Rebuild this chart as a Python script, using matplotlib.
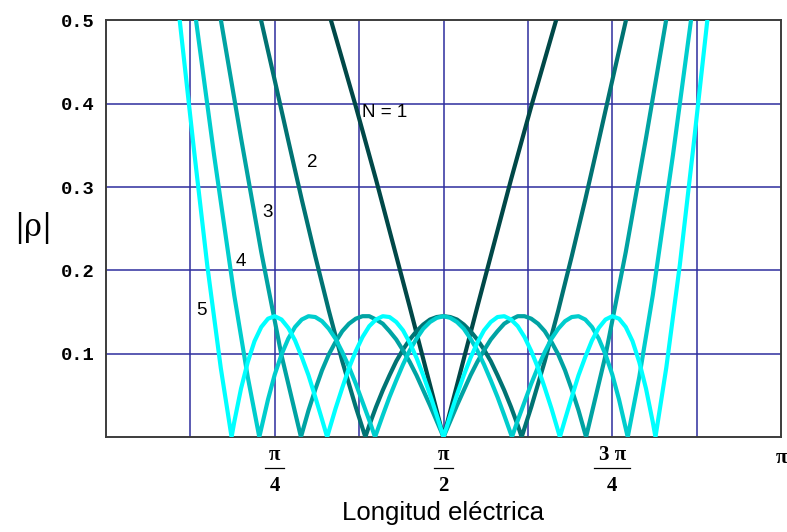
import matplotlib
matplotlib.use("Agg")
import matplotlib.pyplot as plt
from matplotlib.transforms import blended_transform_factory

# electrical length in units of pi, |rho|
X_N1 = [0.3333, 0.37, 0.40, 0.45, 0.50, 0.55, 0.60, 0.63, 0.6667]
Y_N1 = [0.500, 0.397, 0.309, 0.156, 0.0, 0.156, 0.309, 0.397, 0.500]

X_N2 = [0.2298, 0.25, 0.27, 0.29, 0.31, 0.33, 0.35, 0.37, 0.3842,
        0.39, 0.40, 0.41, 0.42, 0.43, 0.44, 0.45, 0.46, 0.47, 0.48, 0.49, 0.50,
        0.51, 0.52, 0.53, 0.54, 0.55, 0.56, 0.57, 0.58, 0.59, 0.60, 0.61,
        0.6158, 0.63, 0.65, 0.67, 0.69, 0.71, 0.73, 0.75, 0.7702]
Y_N2 = [0.500, 0.428, 0.356, 0.285, 0.217, 0.152, 0.091, 0.036, 0.0,
        0.014, 0.036, 0.056, 0.074, 0.091, 0.105, 0.117, 0.127, 0.135, 0.141, 0.144, 0.145,
        0.144, 0.141, 0.135, 0.127, 0.117, 0.105, 0.091, 0.074, 0.056, 0.036, 0.014,
        0.0, 0.036, 0.091, 0.152, 0.217, 0.285, 0.356, 0.428, 0.500]

X_N3 = [0.1703, 0.20, 0.23, 0.26, 0.2888,
        0.30, 0.31, 0.32, 0.33, 0.34, 0.35, 0.36, 0.37, 0.38, 0.39, 0.40,
        0.41, 0.42, 0.43, 0.44, 0.45, 0.46, 0.47, 0.48, 0.49, 0.50,
        0.51, 0.52, 0.53, 0.54, 0.55, 0.56, 0.57, 0.58, 0.59, 0.60,
        0.61, 0.62, 0.63, 0.64, 0.65, 0.66, 0.67, 0.68, 0.69, 0.70,
        0.7112, 0.74, 0.77, 0.80, 0.8297]
Y_N3 = [0.500, 0.359, 0.222, 0.098, 0.0,
        0.032, 0.057, 0.080, 0.099, 0.114, 0.127, 0.136, 0.142, 0.145, 0.145, 0.141,
        0.136, 0.127, 0.117, 0.104, 0.090, 0.074, 0.056, 0.038, 0.019, 0.0,
        0.019, 0.038, 0.056, 0.074, 0.090, 0.104, 0.117, 0.127, 0.136, 0.141,
        0.145, 0.145, 0.142, 0.136, 0.127, 0.114, 0.099, 0.080, 0.057, 0.032,
        0.0, 0.098, 0.222, 0.359, 0.500]

X_N4 = [0.1334, 0.16, 0.19, 0.21, 0.2271,
        0.24, 0.25, 0.26, 0.27, 0.28, 0.29, 0.30, 0.31, 0.32, 0.33, 0.34,
        0.35, 0.36, 0.37, 0.38, 0.39, 0.3986,
        0.41, 0.42, 0.43, 0.44, 0.45, 0.46, 0.47, 0.48, 0.49, 0.50,
        0.51, 0.52, 0.53, 0.54, 0.55, 0.56, 0.57, 0.58, 0.59, 0.6014,
        0.61, 0.62, 0.63, 0.64, 0.65, 0.66, 0.67, 0.68, 0.69, 0.70,
        0.71, 0.72, 0.73, 0.74, 0.75, 0.76, 0.7729,
        0.79, 0.81, 0.84, 0.8666]
Y_N4 = [0.500, 0.339, 0.170, 0.072, 0.0,
        0.045, 0.075, 0.099, 0.118, 0.132, 0.141, 0.145, 0.144, 0.139, 0.130, 0.118,
        0.102, 0.084, 0.064, 0.042, 0.020, 0.0,
        0.026, 0.048, 0.068, 0.087, 0.104, 0.118, 0.130, 0.138, 0.143, 0.145,
        0.143, 0.138, 0.130, 0.118, 0.104, 0.087, 0.068, 0.048, 0.026, 0.0,
        0.020, 0.042, 0.064, 0.084, 0.102, 0.118, 0.130, 0.139, 0.144, 0.145,
        0.141, 0.132, 0.118, 0.099, 0.075, 0.045, 0.0,
        0.072, 0.170, 0.339, 0.500]

X_N5 = [0.1092, 0.13, 0.15, 0.17, 0.186,
        0.19, 0.20, 0.21, 0.22, 0.23, 0.24, 0.25, 0.26, 0.27, 0.28, 0.29,
        0.30, 0.31, 0.32, 0.3276,
        0.34, 0.35, 0.36, 0.37, 0.38, 0.39, 0.40, 0.41, 0.42, 0.43, 0.44,
        0.45, 0.46, 0.47, 0.48, 0.49, 0.50,
        0.51, 0.52, 0.53, 0.54, 0.55, 0.56, 0.57, 0.58, 0.59, 0.60,
        0.61, 0.62, 0.63, 0.64, 0.65, 0.66, 0.6724,
        0.68, 0.69, 0.70, 0.71, 0.72, 0.73, 0.74, 0.75, 0.76, 0.77,
        0.78, 0.79, 0.80, 0.81, 0.814,
        0.83, 0.85, 0.87, 0.8908]
Y_N5 = [0.500, 0.347, 0.206, 0.083, 0.0,
        0.018, 0.058, 0.090, 0.115, 0.132, 0.142, 0.145, 0.141, 0.131, 0.116, 0.096,
        0.074, 0.048, 0.021, 0.0,
        0.034, 0.059, 0.083, 0.103, 0.120, 0.133, 0.141, 0.145, 0.144, 0.138, 0.128,
        0.113, 0.095, 0.074, 0.051, 0.026, 0.0,
        0.026, 0.051, 0.074, 0.095, 0.113, 0.128, 0.138, 0.144, 0.145, 0.141,
        0.133, 0.120, 0.103, 0.083, 0.059, 0.034, 0.0,
        0.021, 0.048, 0.074, 0.096, 0.116, 0.131, 0.141, 0.145, 0.142, 0.132,
        0.115, 0.090, 0.058, 0.018, 0.0,
        0.083, 0.206, 0.347, 0.500]

CURVE_LABELS = ["N = 1", "2", "3", "4", "5"]
LABEL_X = [0.379, 0.305, 0.240, 0.200, 0.141]
LABEL_Y = [0.389, 0.329, 0.269, 0.211, 0.152]

Y_TICKS = [0.1, 0.2, 0.3, 0.4, 0.5]
Y_TICK_LABELS = ["0.1", "0.2", "0.3", "0.4", "0.5"]
X_GRID = [0.125, 0.25, 0.375, 0.5, 0.625, 0.75, 0.875]

COLORS = ["#004848", "#007373", "#00a3a3", "#00cdcd", "#00ffff"]
GRID_CLR = "#2e2e9e"
SPINE_CLR = "#3c3c3c"


def plot():
    fig = plt.figure(figsize=(7.87, 5.32), dpi=100)
    ax = fig.add_axes([0.1347, 0.1786, 0.8577, 0.7829])

    for xv in X_GRID:
        ax.axvline(xv, color=GRID_CLR, lw=1.1, zorder=1)
    for yv in Y_TICKS[:-1]:
        ax.axhline(yv, color=GRID_CLR, lw=1.1, zorder=1)

    series = [(X_N1, Y_N1), (X_N2, Y_N2), (X_N3, Y_N3), (X_N4, Y_N4), (X_N5, Y_N5)]
    for i, (xs, ys) in enumerate(series):
        ax.plot(xs, ys, color=COLORS[i], lw=3.0, zorder=3 + i,
                solid_joinstyle="round")

    for lab, lx, ly in zip(CURVE_LABELS, LABEL_X, LABEL_Y):
        ha = "left" if lab.startswith("N") else "center"
        ax.text(lx, ly, lab, fontsize=13.5, family="Liberation Sans",
                ha=ha, va="center", zorder=10)

    ax.set_xlim(0, 1)
    ax.set_ylim(0, 0.5)
    ax.set_yticks(Y_TICKS)
    ax.set_yticklabels(Y_TICK_LABELS, family="Liberation Mono",
                       fontweight="bold", fontsize=13.5)
    ax.tick_params(axis="y", length=0, pad=8.5)
    ax.set_xticks([])

    for s in ax.spines.values():
        s.set_color(SPINE_CLR)
        s.set_linewidth(1.4)

    # pi fraction tick labels
    tr = blended_transform_factory(ax.transData, ax.transAxes)
    frac_font = dict(family="Liberation Serif", fontweight="bold", fontsize=15,
                     ha="center", va="center", transform=tr, clip_on=False)
    fracs = [(0.25, "π", "4", 0.014), (0.5, "π", "2", 0.014),
             (0.75, "3 π", "4", 0.027)]
    for xv, num, den, half in fracs:
        ax.text(xv, -0.043, num, **frac_font)
        ax.text(xv, -0.118, den, **frac_font)
        ax.plot([xv - half, xv + half], [-0.075, -0.075], color="black",
                lw=0.9, transform=tr, clip_on=False)
    ax.text(1.0, -0.05, "π", **frac_font)

    fig.text(0.042, 0.571, "|ρ|", family="DejaVu Serif", fontsize=22,
             ha="center", va="center")
    fig.text(0.563, 0.036, "Longitud eléctrica", family="Liberation Sans",
             fontsize=18.5, ha="center", va="center")

    fig.savefig("out.png", dpi=100, facecolor="white")


if __name__ == "__main__":
    plot()
